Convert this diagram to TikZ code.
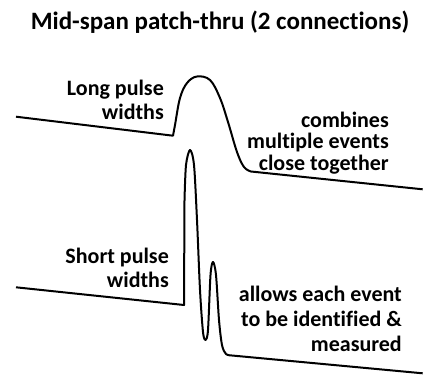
\documentclass[tikz,border=0pt]{standalone}
\usepackage{fontspec}
\setmainfont{Carlito}[Ligatures=NoCommon]
\begin{document}
\begin{tikzpicture}[x=1pt,y=-1pt,
    trace/.style={line width=2pt,line join=round},
    lbl/.style={font=\bfseries\fontsize{22}{22}\selectfont,align=right,anchor=east,inner sep=0pt}]
  \useasboundingbox (0,0) rectangle (428,375);
  %titolo
  \node[font=\bfseries\fontsize{25}{28}\selectfont] (title) at (220,22) {Mid-span patch-thru (2 connections)};
  %impulso lungo
  \draw[trace] (16,116.7) -- plot[smooth,tension=0.6] coordinates {(173,135.7) (175,125) (180,98) (187,83) (197,76.5) (210,80) (220,98) (228,122) (237,152) (244,167) (251,171.5)} -- (422.7,189.3);
  \node[lbl,font=\bfseries\fontsize{22}{24}\selectfont] (longlbl) at (164,100) {Long pulse\\widths};
  \node[lbl,font=\bfseries\fontsize{22}{21.5}\selectfont] (combinelbl) at (389,143) {combines\\multiple events\\close together};
  %impulsi corti
  \draw[trace] (16,287.3) -- (184,305) -- plot[smooth,tension=0.5] coordinates {(184.5,200) (186,165) (190,150) (194,165) (197,220) (200,290) (203,332) (205.5,340) (208,330) (210.5,275) (213,262) (216,275) (219,320) (222,345) (226,354) (232,355.5)} -- (422.7,373.3);
  \node[lbl,font=\bfseries\fontsize{22}{24}\selectfont] (shortlbl) at (169,268) {Short pulse\\widths};
  \node[lbl,font=\bfseries\fontsize{22}{25}\selectfont] (allowlbl) at (402,319) {allows each event\\to be identified \&\\measured};
\end{tikzpicture}
\end{document}
